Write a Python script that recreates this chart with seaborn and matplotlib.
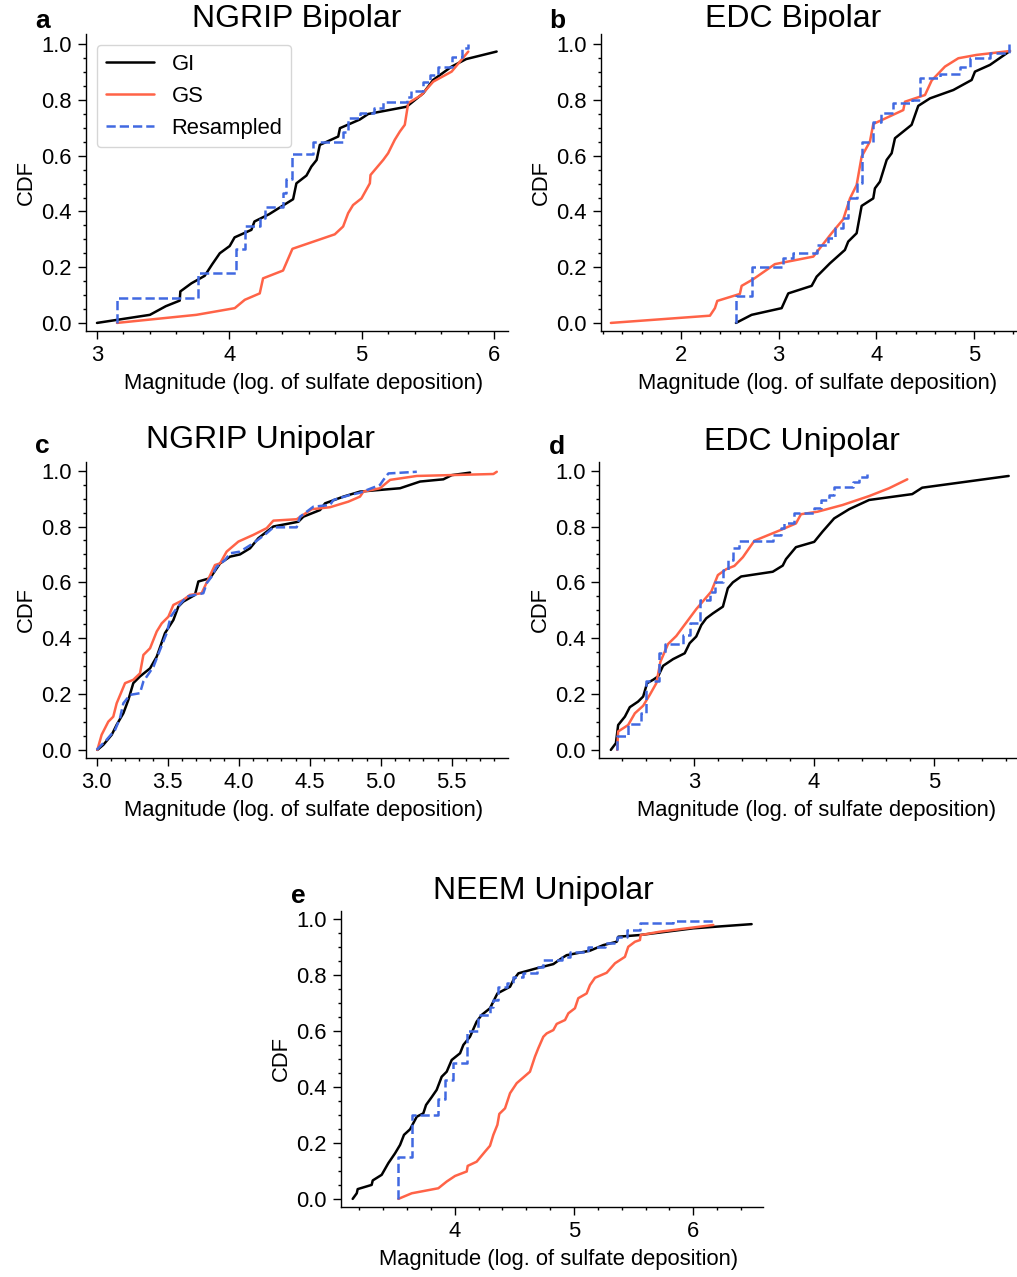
import seaborn as sns
import matplotlib.pyplot as plt
from matplotlib.ticker import MultipleLocator, AutoMinorLocator

# ---------------- data: empirical CDFs of event magnitudes ----------------
# a) NGRIP bipolar
gi_a_x = [3.00, 3.40, 3.52, 3.625, 3.63, 3.713, 3.814, 3.87, 3.928, 4.003, 4.04, 4.167, 4.19, 4.30,
          4.482, 4.507, 4.583, 4.62, 4.66, 4.684, 4.823, 4.836, 4.986, 5.05, 5.34, 5.465, 5.54, 5.68,
          5.79, 6.02]
gi_a_y = [0.0, 0.029, 0.06, 0.08, 0.113, 0.142, 0.169, 0.21, 0.25, 0.276, 0.307, 0.334, 0.364, 0.39,
          0.444, 0.501, 0.529, 0.561, 0.585, 0.639, 0.669, 0.699, 0.73, 0.75, 0.776, 0.824, 0.872, 0.92,
          0.947, 0.974]
gs_a_x = [3.151, 3.751, 4.041, 4.117, 4.23, 4.255, 4.406, 4.477, 4.797, 4.86, 4.898, 4.935, 4.999,
          5.062, 5.067, 5.163, 5.20, 5.25, 5.289, 5.326, 5.352, 5.452, 5.541, 5.68, 5.806]
gs_a_y = [0.0, 0.029, 0.053, 0.083, 0.106, 0.16, 0.188, 0.266, 0.318, 0.346, 0.394, 0.423, 0.447,
          0.501, 0.531, 0.585, 0.609, 0.657, 0.687, 0.711, 0.789, 0.818, 0.866, 0.902, 0.974]
rs_a_x = [3.151, 3.151, 3.764, 4.054, 4.117, 4.23, 4.27, 4.406, 4.43, 4.477, 4.633, 4.86, 4.898,
          4.986, 5.09, 5.163, 5.34, 5.37, 5.465, 5.52, 5.58, 5.68, 5.76, 5.806]
rs_a_y = [0.0, 0.091, 0.178, 0.264, 0.348, 0.376, 0.415, 0.468, 0.516, 0.605, 0.651, 0.687, 0.735,
          0.753, 0.77, 0.794, 0.811, 0.833, 0.866, 0.89, 0.92, 0.953, 0.986, 1.0]

# b) EDC bipolar
gi_b_x = [2.563, 2.723, 3.03, 3.098, 3.337, 3.388, 3.524, 3.677, 3.711, 3.797, 3.848, 3.967, 3.984,
          4.035, 4.104, 4.155, 4.189, 4.359, 4.427, 4.547, 4.786, 4.973, 5.007, 5.16, 5.365]
gi_b_y = [0.0, 0.029, 0.053, 0.106, 0.133, 0.166, 0.214, 0.262, 0.292, 0.322, 0.42, 0.447, 0.483,
          0.507, 0.585, 0.609, 0.663, 0.711, 0.779, 0.806, 0.836, 0.872, 0.902, 0.926, 0.976]
gs_b_x = [1.284, 2.297, 2.348, 2.372, 2.603, 2.621, 2.74, 2.961, 3.354, 3.541, 3.66, 3.729, 3.797,
          3.848, 3.933, 3.967, 4.274, 4.291, 4.496, 4.564, 4.70, 4.837, 5.024, 5.365]
gs_b_y = [0.0, 0.026, 0.053, 0.079, 0.104, 0.133, 0.157, 0.211, 0.238, 0.322, 0.372, 0.447, 0.495,
          0.597, 0.651, 0.714, 0.764, 0.794, 0.818, 0.87, 0.92, 0.95, 0.962, 0.976]
rs_b_x = [2.563, 2.563, 2.723, 3.047, 3.149, 3.388, 3.507, 3.575, 3.66, 3.711, 3.797, 3.848, 3.967,
          4.05, 4.172, 4.36, 4.445, 4.65, 4.854, 4.956, 5.16, 5.35]
rs_b_y = [0.0, 0.098, 0.2, 0.232, 0.25, 0.28, 0.304, 0.34, 0.376, 0.45, 0.501, 0.651, 0.72,
          0.752, 0.788, 0.80, 0.878, 0.895, 0.92, 0.95, 0.968, 1.0]

# c) NGRIP unipolar
gi_c_x = [3.005, 3.047, 3.106, 3.141, 3.188, 3.223, 3.258, 3.305, 3.376, 3.423, 3.481, 3.54, 3.575,
          3.61, 3.692, 3.716, 3.798, 3.869, 3.939, 4.009, 4.08, 4.138, 4.244, 4.42, 4.455, 4.573,
          4.608, 4.737, 4.854, 5.136, 5.277, 5.441, 5.5, 5.629]
gi_c_y = [0.0, 0.018, 0.054, 0.09, 0.131, 0.179, 0.239, 0.263, 0.292, 0.334, 0.418, 0.465, 0.513,
          0.531, 0.555, 0.603, 0.615, 0.668, 0.692, 0.70, 0.722, 0.758, 0.80, 0.817, 0.835, 0.859,
          0.883, 0.907, 0.925, 0.937, 0.961, 0.969, 0.984, 0.993]
gs_c_x = [3.005, 3.035, 3.082, 3.117, 3.141, 3.20, 3.258, 3.305, 3.329, 3.376, 3.423, 3.458, 3.505,
          3.54, 3.61, 3.657, 3.739, 3.833, 3.869, 3.915, 3.998, 4.103, 4.197, 4.244, 4.408, 4.514,
          4.643, 4.772, 4.854, 4.878, 4.995, 5.066, 5.254, 5.793, 5.817]
gs_c_y = [0.0, 0.054, 0.101, 0.119, 0.167, 0.239, 0.251, 0.274, 0.34, 0.364, 0.424, 0.453, 0.477,
          0.519, 0.537, 0.555, 0.561, 0.662, 0.668, 0.71, 0.746, 0.77, 0.794, 0.821, 0.826, 0.862,
          0.869, 0.889, 0.907, 0.925, 0.937, 0.967, 0.981, 0.988, 0.996]
rs_c_x = [3.0, 3.07, 3.13, 3.164, 3.188, 3.235, 3.305, 3.329, 3.40, 3.446, 3.493, 3.521, 3.563,
          3.634, 3.751, 3.775, 3.81, 3.845, 3.904, 3.939, 4.009, 4.103, 4.197, 4.244, 4.408, 4.432,
          4.526, 4.643, 4.667, 4.784, 4.854, 4.995, 5.019, 5.054, 5.254]
rs_c_y = [0.0, 0.036, 0.072, 0.113, 0.167, 0.197, 0.203, 0.245, 0.298, 0.358, 0.418, 0.477, 0.507,
          0.549, 0.561, 0.597, 0.621, 0.656, 0.68, 0.704, 0.71, 0.74, 0.776, 0.797, 0.797, 0.835,
          0.871, 0.877, 0.895, 0.913, 0.921, 0.949, 0.967, 0.99, 0.996]

# d) EDC unipolar
gi_d_x = [2.308, 2.35, 2.369, 2.425, 2.466, 2.535, 2.577, 2.61, 2.66, 2.701, 2.743, 2.826, 2.923,
          2.964, 3.019, 3.061, 3.102, 3.158, 3.241, 3.282, 3.324, 3.393, 3.656, 3.739, 3.766, 3.849,
          4.001, 4.071, 4.167, 4.292, 4.458, 4.817, 4.90, 5.62]
gi_d_y = [0.0, 0.024, 0.089, 0.119, 0.153, 0.173, 0.191, 0.239, 0.251, 0.263, 0.301, 0.325, 0.346,
          0.382, 0.406, 0.447, 0.471, 0.489, 0.513, 0.579, 0.60, 0.621, 0.638, 0.66, 0.683, 0.726,
          0.745, 0.782, 0.829, 0.862, 0.895, 0.916, 0.939, 0.981]
gs_d_x = [2.361, 2.369, 2.452, 2.508, 2.577, 2.632, 2.687, 2.721, 2.784, 2.853, 3.019, 3.144, 3.199,
          3.268, 3.337, 3.407, 3.503, 3.725, 3.849, 3.891, 4.029, 4.237, 4.458, 4.624, 4.776]
gs_d_y = [0.0, 0.066, 0.089, 0.131, 0.158, 0.197, 0.239, 0.316, 0.379, 0.408, 0.504, 0.567, 0.626,
          0.647, 0.659, 0.69, 0.749, 0.788, 0.811, 0.844, 0.853, 0.877, 0.909, 0.937, 0.969]
rs_d_x = [2.361, 2.361, 2.452, 2.563, 2.604, 2.71, 2.757, 2.909, 2.964, 3.047, 3.13, 3.172, 3.241,
          3.282, 3.324, 3.379, 3.656, 3.725, 3.752, 3.835, 4.001, 4.057, 4.126, 4.167, 4.32, 4.375,
          4.444]
rs_d_y = [0.0, 0.05, 0.093, 0.131, 0.245, 0.346, 0.379, 0.412, 0.453, 0.537, 0.567, 0.603, 0.644,
          0.68, 0.722, 0.749, 0.77, 0.794, 0.811, 0.85, 0.865, 0.895, 0.913, 0.943, 0.96, 0.976,
          0.996]

# e) NEEM unipolar
gi_e_x = [3.145, 3.179, 3.187, 3.304, 3.313, 3.388, 3.444, 3.50, 3.542, 3.575, 3.626, 3.682, 3.737,
          3.76, 3.807, 3.849, 3.891, 3.933, 3.975, 4.045, 4.073, 4.128, 4.184, 4.226, 4.296, 4.358,
          4.464, 4.492, 4.534, 4.687, 4.827, 4.897, 4.939, 5.134, 5.246, 5.358, 5.372, 5.553, 6.0,
          6.489]
gi_e_y = [0.0, 0.02, 0.035, 0.05, 0.066, 0.086, 0.128, 0.163, 0.193, 0.229, 0.249, 0.294, 0.306,
          0.336, 0.364, 0.39, 0.437, 0.455, 0.497, 0.521, 0.551, 0.58, 0.634, 0.658, 0.682, 0.735,
          0.759, 0.783, 0.807, 0.825, 0.84, 0.861, 0.872, 0.888, 0.908, 0.92, 0.938, 0.944, 0.968,
          0.983]
gs_e_x = [3.528, 3.64, 3.863, 3.933, 4.003, 4.101, 4.109, 4.184, 4.254, 4.296, 4.324, 4.358, 4.374,
          4.422, 4.464, 4.52, 4.631, 4.673, 4.701, 4.743, 4.771, 4.827, 4.855, 4.925, 4.953, 5.008,
          5.036, 5.106, 5.134, 5.176, 5.274, 5.344, 5.427, 5.455, 5.511, 5.553, 5.559, 5.721, 6.168]
gs_e_y = [0.0, 0.02, 0.038, 0.062, 0.082, 0.098, 0.118, 0.133, 0.169, 0.19, 0.229, 0.265, 0.304,
          0.324, 0.378, 0.414, 0.455, 0.509, 0.539, 0.58, 0.592, 0.604, 0.626, 0.64, 0.664, 0.682,
          0.718, 0.735, 0.765, 0.791, 0.809, 0.843, 0.866, 0.902, 0.92, 0.926, 0.944, 0.956, 0.98]
rs_e_x = [3.528, 3.528, 3.64, 3.863, 3.919, 3.983, 4.106, 4.198, 4.296, 4.324, 4.366, 4.436, 4.492,
          4.575, 4.687, 4.743, 4.897, 4.966, 5.12, 5.26, 5.358, 5.441, 5.553, 5.832, 6.18]
rs_e_y = [0.0, 0.151, 0.30, 0.356, 0.425, 0.485, 0.60, 0.658, 0.688, 0.712, 0.759, 0.771, 0.795,
          0.809, 0.831, 0.855, 0.866, 0.884, 0.902, 0.917, 0.938, 0.962, 0.986, 0.994, 0.994]

titles = ["NGRIP Bipolar", "EDC Bipolar", "NGRIP Unipolar", "EDC Unipolar", "NEEM Unipolar"]
letters = ["a", "b", "c", "d", "e"]
series_names = ["GI", "GS", "Resampled"]

# ---------------- style ----------------
sns.set_theme(style="ticks")
plt.rcParams["font.family"] = ["Liberation Sans", "DejaVu Sans"]
plt.rcParams.update({
    "axes.edgecolor": "black",
    "axes.linewidth": 1.0,
    "xtick.color": "black",
    "ytick.color": "black",
    "text.color": "black",
    "axes.labelcolor": "black",
})

C_GI = "black"
C_GS = "tomato"
C_RS = "royalblue"
LW = 1.8
FS = 15.8          # tick labels, axis labels, legend
FS_TITLE = 23
FS_LETTER = 19

W, H = 1017, 1277
fig = plt.figure(figsize=(W / 100, H / 100), dpi=100)


def px_axes(left, top, right, bottom):
    return fig.add_axes([left / W, 1 - bottom / H, (right - left) / W, (bottom - top) / H])


axes = [
    px_axes(86, 34, 508, 331),
    px_axes(600.7, 34, 1022.7, 331),
    px_axes(86, 462, 508, 757.7),
    px_axes(599.3, 462, 1021.3, 757.7),
    px_axes(341, 911, 763.3, 1206.7),
]

panels = [
    (gi_a_x, gi_a_y, gs_a_x, gs_a_y, rs_a_x, rs_a_y, True),
    (gi_b_x, gi_b_y, gs_b_x, gs_b_y, rs_b_x, rs_b_y, True),
    (gi_c_x, gi_c_y, gs_c_x, gs_c_y, rs_c_x, rs_c_y, False),
    (gi_d_x, gi_d_y, gs_d_x, gs_d_y, rs_d_x, rs_d_y, True),
    (gi_e_x, gi_e_y, gs_e_x, gs_e_y, rs_e_x, rs_e_y, True),
]

xlims = [(2.917, 6.106), (1.18, 5.495), (2.925, 5.896), (2.212, 5.725), (3.047, 6.587)]
ylims = [(-0.029, 1.037), (-0.029, 1.037), (-0.028, 1.031), (-0.028, 1.031), (-0.028, 1.030)]
xsteps = [1, 1, 0.5, 1, 1]
title_x = [0.5, 0.456, 0.414, 0.48, 0.479]
title_pad = [3.4, 4.1, 9.9, 8.6, 8.4]
letter_pos = [(35, 27.7), (549.7, 27.7), (35, 453.3), (549, 454.3), (291, 902.7)]

for i, ax in enumerate(axes):
    gx, gy, sx, sy, rx, ry, stepped = panels[i]
    sns.lineplot(x=gx, y=gy, sort=False, estimator=None, color=C_GI, lw=LW,
                 label=series_names[0], ax=ax)
    sns.lineplot(x=sx, y=sy, sort=False, estimator=None, color=C_GS, lw=LW,
                 label=series_names[1], ax=ax)
    sns.lineplot(x=rx, y=ry, sort=False, estimator=None, color=C_RS, lw=LW,
                 linestyle="--", drawstyle="steps-post" if stepped else "default",
                 label=series_names[2], ax=ax)

    ax.set_xlim(*xlims[i])
    ax.set_ylim(*ylims[i])
    ax.xaxis.set_major_locator(MultipleLocator(xsteps[i]))
    ax.yaxis.set_major_locator(MultipleLocator(0.2))
    ax.xaxis.set_minor_locator(AutoMinorLocator())
    ax.yaxis.set_minor_locator(AutoMinorLocator())
    ax.tick_params(which="major", length=6, width=1.0, labelsize=FS, pad=4)
    ax.tick_params(which="minor", length=2.5, width=1.0)
    sns.despine(ax=ax)

    ax.set_xlabel("Magnitude (log. of sulfate deposition)", fontsize=FS, labelpad=5)
    ax.xaxis.label.set_x(0.515)
    ax.set_ylabel("CDF", fontsize=FS, labelpad=3)
    ax.set_title(titles[i], fontsize=FS_TITLE, x=title_x[i], pad=title_pad[i])

    lx, ly = letter_pos[i]
    fig.text(lx / W, 1 - ly / H, letters[i], fontsize=FS_LETTER, fontweight="bold",
             ha="left", va="baseline")

    if i == 0:
        ax.legend(loc="upper left", fontsize=FS, frameon=True, handlelength=2.2,
                  borderaxespad=0.5)
    else:
        ax.get_legend().remove()

fig.savefig("out.png", dpi=100)
